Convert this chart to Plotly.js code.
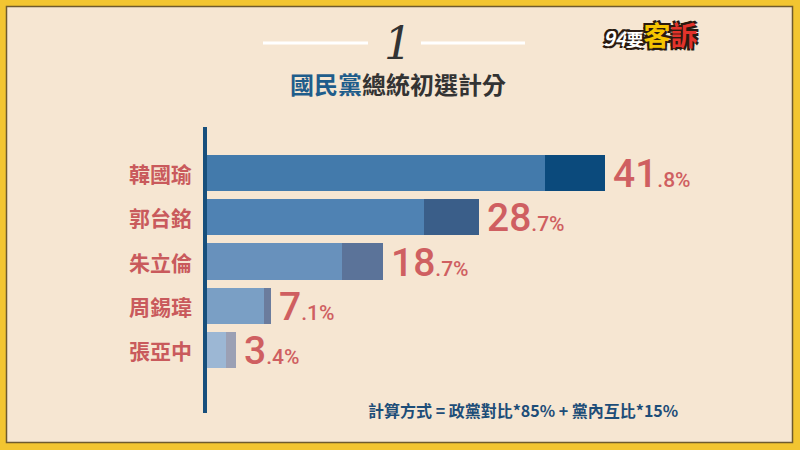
<!DOCTYPE html>
<html>
<head>
<meta charset="utf-8">
<script src="https://cdn.plot.ly/plotly-3.0.1.min.js"></script>
<style>
html,body{margin:0;padding:0;background:#f2c531;}
#chart{width:800px;height:450px;}
</style>
</head>
<body>
<div id="chart"></div>
<script>
// ---- data ----
const candidates = ['韓國瑜', '郭台銘', '朱立倫', '周錫瑋', '張亞中'];
const partPartyPoll = [35.6, 23.0, 14.4, 6.3, 2.4];   // lighter segment
const partInternal = [6.2, 5.7, 4.3, 0.8, 1.0];       // darker segment
const totals = [41.8, 28.7, 18.7, 7.1, 3.4];
const totalInt = ['41', '28', '18', '7', '3'];
const totalDec = ['.8%', '.7%', '.7%', '.1%', '.4%'];

const lightColors = ['#437aab', '#4f82b3', '#6891bc', '#7a9fc5', '#9cb7d4'];
const darkColors  = ['#0b4a7c', '#3a5e89', '#5b7399', '#6b7c9d', '#9ba0b4'];

// ---- layout geometry (pixels) ----
const W = 800, H = 450;
const M = {l: 203, r: 40, t: 147, b: 76};
const PW = W - M.l - M.r, PH = H - M.t - M.b;
const px2x = p => (p - M.l) / PW;
const px2y = q => (H - M.b - q) / PH;

const labelColor = '#c95a5c';
const valueColor = '#cf5f61';
const cjk = '"Noto Sans CJK TC", "Noto Sans CJK SC", sans-serif';

const traces = [
  {type: 'bar', orientation: 'h', y: candidates, x: partPartyPoll,
   marker: {color: lightColors, line: {width: 0}}, hoverinfo: 'skip'},
  {type: 'bar', orientation: 'h', y: candidates, x: partInternal,
   marker: {color: darkColors, line: {width: 0}}, hoverinfo: 'skip'}
];

const annotations = [];
candidates.forEach((c, i) => {
  annotations.push({
    xref: 'paper', yref: 'y', x: 0, y: c, xanchor: 'right', yanchor: 'middle',
    xshift: -9, showarrow: false, text: c,
    font: {family: cjk, size: 21, color: labelColor, weight: 600}
  });
  annotations.push({
    xref: 'x', yref: 'y', x: totals[i], y: c, xanchor: 'left', yanchor: 'middle',
    xshift: 6, yshift: -1, showarrow: false,
    text: totalInt[i] + '<span style="font-size:21px">' + totalDec[i] + '</span>',
    font: {family: 'Roboto, "Open Sans", sans-serif', size: 39, color: valueColor, weight: 500}
  });
});

// title "1"
annotations.push({
  xref: 'paper', yref: 'paper', x: px2x(398), y: px2y(43), xanchor: 'center', yanchor: 'middle',
  showarrow: false, text: '<i>1</i>',
  font: {family: '"DejaVu Serif", "Liberation Serif", serif', size: 44, color: '#333333'}
});
// subtitle
annotations.push({
  xref: 'paper', yref: 'paper', x: px2x(398), y: px2y(83), xanchor: 'center', yanchor: 'middle',
  showarrow: false,
  text: '<b><span style="color:#1f5d8b">國民黨</span>總統初選計分</b>',
  font: {family: cjk, size: 24, color: '#333333'}
});
// footnote
annotations.push({
  xref: 'paper', yref: 'paper', x: px2x(523), y: px2y(410), xanchor: 'center', yanchor: 'middle',
  showarrow: false,
  text: '<b>計算方式 = 政黨對比*85% + 黨內互比*15%</b>',
  font: {family: cjk, size: 16, color: '#1d4d78'}
});
// logo
annotations.push({
  xref: 'paper', yref: 'paper', x: px2x(650), y: px2y(35), xanchor: 'center', yanchor: 'middle',
  showarrow: false,
  text: '<b><i><span style="color:#ffffff;font-size:20px">94</span></i><span style="color:#ffffff;font-size:17px">要</span><span style="color:#f6c400">客</span><span style="color:#e2332b">訴</span></b>',
  font: {family: cjk, size: 27, color: '#ffffff',
         shadow: '2px 2px 0 #2a1a10, -2px -2px 0 #2a1a10, 2px -2px 0 #2a1a10, -2px 2px 0 #2a1a10'}
});

const shapes = [
  // cream panel inside yellow frame
  {type: 'rect', xref: 'paper', yref: 'paper', layer: 'below',
   x0: px2x(6.5), x1: px2x(792.5), y0: px2y(442.5), y1: px2y(6.5),
   fillcolor: '#f6e6d2', line: {color: '#6e5a2e', width: 1.5}},
  // title rules
  {type: 'line', xref: 'paper', yref: 'paper', x0: px2x(263), x1: px2x(368), y0: px2y(43), y1: px2y(43),
   line: {color: '#ffffff', width: 3}},
  {type: 'line', xref: 'paper', yref: 'paper', x0: px2x(421), x1: px2x(525), y0: px2y(43), y1: px2y(43),
   line: {color: '#ffffff', width: 3}},
  // vertical axis line
  {type: 'line', xref: 'paper', yref: 'paper', layer: 'above', x0: px2x(205), x1: px2x(205),
   y0: px2y(413), y1: px2y(127), line: {color: '#174f7c', width: 4}}
];

const layout = {
  width: W, height: H, margin: M,
  paper_bgcolor: '#f2c531', plot_bgcolor: 'rgba(0,0,0,0)',
  barmode: 'stack', bargap: 0.18, showlegend: false,
  xaxis: {range: [0, PW / 9.62], visible: false, fixedrange: true},
  yaxis: {type: 'category', categoryorder: 'array', categoryarray: candidates,
          autorange: 'reversed', showticklabels: false, showgrid: false,
          zeroline: false, showline: false, fixedrange: true},
  annotations: annotations, shapes: shapes
};

Plotly.newPlot('chart', traces, layout, {staticPlot: true, displayModeBar: false});
</script>
</body>
</html>
